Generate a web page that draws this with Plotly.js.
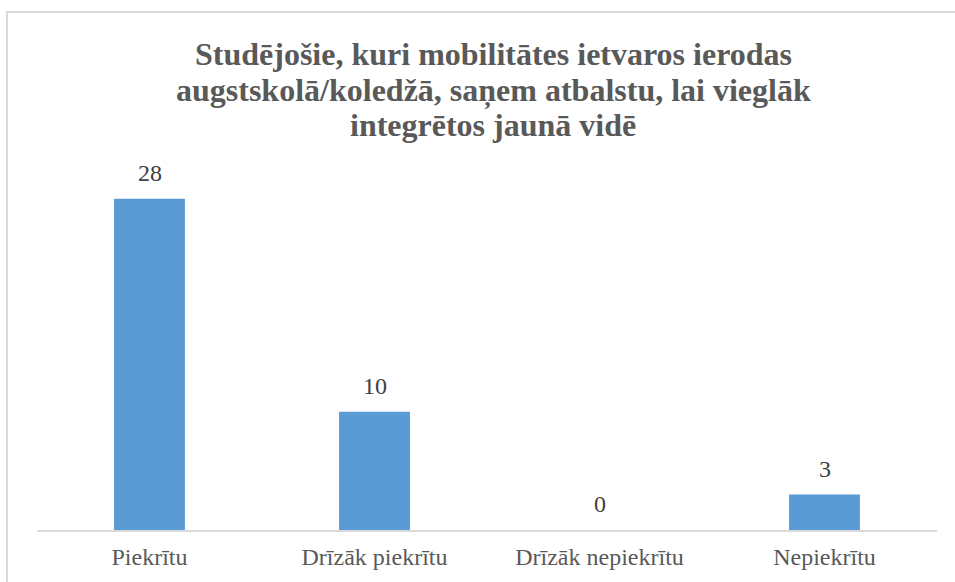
<!DOCTYPE html>
<html>
<head>
<meta charset="utf-8">
<script src="https://cdn.plot.ly/plotly-3.0.1.min.js"></script>
<style>html,body{margin:0;padding:0;background:#fff;}#wrap{position:relative;width:955px;height:582px;overflow:hidden;}#chart{width:955px;height:582px;}#frame{position:absolute;left:6px;top:11px;width:960px;height:590px;border:2px solid #d9d9d9;pointer-events:none;}</style>
</head>
<body>
<div id="wrap"><div id="chart"></div><div id="frame"></div></div>
<script>
const categories = ["Piekrītu", "Drīzāk piekrītu", "Drīzāk nepiekrītu", "Nepiekrītu"];
const values = [28, 10, 0, 3];
const titleLines = [
  "Studējošie, kuri mobilitātes ietvaros ierodas",
  "augstskolā/koledžā, saņem atbalstu, lai vieglāk",
  "integrētos jaunā vidē"
];

const W = 955, H = 582;
const m = {l: 37, r: 18, t: 175, b: 52};
const ph = H - m.t - m.b;
const serif = "'Liberation Serif', 'Times New Roman', serif";

const labelAnn = categories.map((c, i) => ({
  x: c, y: values[i], xref: 'x', yref: 'y',
  text: String(values[i]), showarrow: false,
  yanchor: 'bottom', yshift: 11,
  font: {family: serif, size: 24, color: '#404040'}
}));

const titleCenters = [54, 90, 125];
const titleAnn = titleLines.map((t, i) => ({
  xref: 'paper', yref: 'paper',
  x: (493 - m.l) / (W - m.l - m.r), y: (H - m.b - titleCenters[i]) / ph,
  xanchor: 'center', yanchor: 'middle', showarrow: false,
  text: '<b>' + t + '</b>',
  font: {family: serif, size: 32, color: '#595959'}
}));

const trace = {
  type: 'bar', x: categories, y: values,
  marker: {color: '#5B9BD5'}, width: 0.315,
  hoverinfo: 'none'
};

const layout = {
  width: W, height: H,
  margin: m,
  paper_bgcolor: '#fff', plot_bgcolor: '#fff',
  showlegend: false,
  font: {family: serif},
  xaxis: {
    showline: true, linecolor: '#d9d9d9', linewidth: 1.5,
    showgrid: false, zeroline: false, ticks: '',
    ticklabelstandoff: 5,
    tickfont: {family: serif, size: 24, color: '#595959'},
    fixedrange: true
  },
  yaxis: {
    range: [0, 30], visible: false, showgrid: false, zeroline: false, fixedrange: true
  },
  annotations: titleAnn.concat(labelAnn)
};

Plotly.newPlot('chart', [trace], layout, {displayModeBar: false, staticPlot: true});
</script>
</body>
</html>
